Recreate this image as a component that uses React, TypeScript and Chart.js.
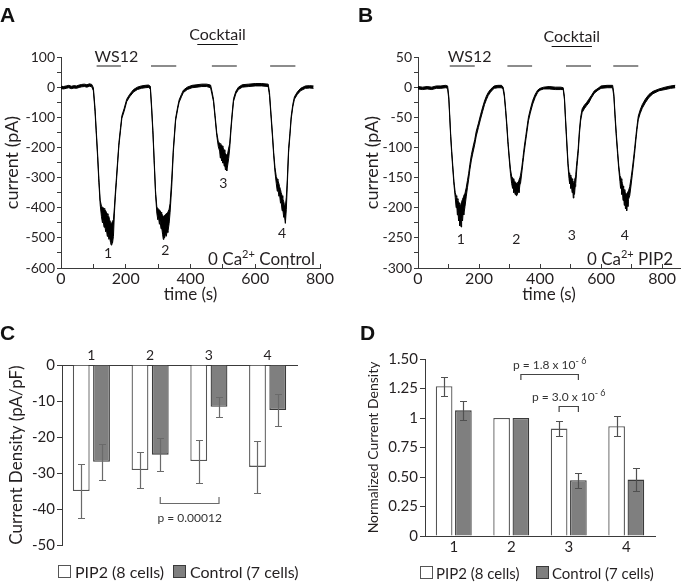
import React, { useEffect, useRef } from 'react';
import { Chart, registerables } from 'chart.js';

Chart.register(...registerables);

const W = 681;
const H = 583;
const FONT = 'Lato, "Open Sans", "DejaVu Sans", sans-serif';
const LETTER_FONT = 'bold 21px "Liberation Sans", Arial, sans-serif';
const TXT = '#231f20';
const AXIS = '#3a3a3a';

// ---------------- Panel A: 0 Ca2+ Control trace (upper / lower edge of the noisy trace) ----------------
const traceATime = [0, 8, 16, 24, 32, 40, 48, 56, 64, 72, 80, 88, 95, 100, 105, 109, 113, 117, 121, 125, 128, 130, 133, 135, 138, 140, 143, 145, 148, 150, 153, 155, 157, 159, 162, 165, 168, 171, 175, 179, 184, 188, 195, 203, 212, 224, 236, 248, 260, 270, 276, 280, 284, 288, 292, 296, 299, 301, 304, 306, 309, 311, 314, 316, 318, 320, 323, 325, 328, 330, 334, 337, 342, 347, 354, 361, 365, 372, 378, 390, 405, 420, 435, 450, 462, 466, 471, 476, 481, 486, 490, 492, 494, 496, 498, 500, 502, 504, 506, 508, 510, 512, 514, 518, 521, 525, 529, 533, 540, 548, 560, 580, 600, 620, 640, 644, 649, 653, 657, 661, 665, 668, 670, 673, 675, 678, 680, 683, 685, 688, 690, 693, 696, 699, 703, 707, 711, 716, 721, 730, 740, 755, 768, 780];
const traceAUpper = [3, 2, 4, 6, 3, 5, 4, 7, 9, 10, 8, 11, 9, -2, -68, -144, -219, -303, -375, -395, -398, -400, -402, -405, -410, -415, -420, -425, -430, -440, -448, -455, -450, -445, -440, -398, -348, -303, -243, -183, -133, -95, -71, -40, -24, -8, 0, 4, 6, 7, 3, -64, -144, -244, -344, -398, -402, -405, -407, -410, -415, -420, -425, -430, -428, -425, -422, -420, -417, -415, -405, -385, -305, -204, -103, -62, -42, -24, -10, 0, 6, 8, 10, 10, 7, -12, -40, -94, -150, -182, -185, -188, -190, -192, -195, -198, -205, -208, -215, -220, -225, -225, -225, -202, -188, -132, -82, -38, -14, 0, 8, 10, 12, 12, 10, -17, -92, -152, -217, -267, -297, -305, -310, -320, -330, -340, -350, -360, -370, -380, -390, -395, -365, -305, -203, -153, -97, -57, -32, -16, -4, 4, 5, 4];
const traceALower = [-5, -6, -4, -2, -5, -3, -4, -1, 1, 2, 0, 3, 1, -12, -80, -156, -231, -317, -390, -430, -450, -440, -465, -455, -480, -470, -495, -485, -505, -498, -515, -524, -510, -518, -495, -418, -362, -317, -253, -193, -143, -103, -80, -48, -32, -16, -8, -4, -2, -1, -6, -76, -156, -256, -356, -418, -440, -430, -455, -445, -470, -465, -490, -505, -492, -500, -485, -495, -478, -482, -452, -415, -330, -216, -112, -70, -50, -32, -18, -8, -2, 0, 2, 2, -2, -22, -48, -103, -160, -198, -212, -235, -222, -245, -235, -252, -245, -262, -258, -275, -270, -278, -265, -236, -204, -143, -92, -47, -22, -8, 0, 2, 4, 4, 2, -28, -103, -163, -228, -282, -320, -345, -335, -362, -355, -385, -380, -410, -405, -432, -425, -452, -405, -325, -217, -163, -106, -66, -40, -24, -12, -4, -3, -4];
const stimA = [[110, 185], [278, 356], [466, 543], [646, 724]];
const cocktailA = [421, 546];
const troughNumbersA = ['1', '2', '3', '4'];
const troughTimesA = [145, 322, 501, 683];
const troughLevelsA = [-551, -541, -318, -484];

// ---------------- Panel B: 0 Ca2+ PIP2 trace ----------------
const traceBTime = [0, 15, 30, 45, 60, 75, 90, 97, 101, 104, 107, 110, 114, 118, 122, 125, 127, 129, 131, 133, 135, 137, 139, 141, 143, 146, 148, 150, 154, 158, 162, 166, 170, 175, 180, 186, 191, 198, 205, 212, 218, 224, 230, 237, 243, 250, 262, 274, 279, 283, 287, 291, 295, 299, 303, 307, 310, 312, 314, 316, 318, 320, 322, 324, 326, 328, 331, 334, 336, 340, 344, 348, 353, 358, 362, 368, 376, 384, 392, 400, 412, 430, 450, 468, 476, 480, 483, 486, 489, 492, 495, 497, 499, 501, 503, 505, 507, 509, 511, 513, 515, 517, 521, 525, 529, 533, 538, 545, 552, 560, 568, 578, 590, 600, 620, 638, 642, 646, 650, 654, 658, 662, 664, 666, 668, 670, 672, 674, 676, 678, 680, 682, 684, 686, 688, 690, 694, 698, 702, 706, 710, 714, 718, 722, 728, 735, 745, 757, 770, 790, 810, 828, 843];
const traceBUpper = [1, 0, 1, 0, 2, 2, 3, 2, -16, -46, -77, -101, -130, -157, -175, -180, -183, -185, -188, -190, -192, -195, -198, -194, -190, -186, -183, -180, -176, -167, -155, -143, -128, -112, -100, -87, -73, -60, -46, -33, -23, -15, -9, -4, -1, 2, 3, 3, 0, -11, -34, -60, -90, -114, -136, -148, -150, -152, -154, -156, -157, -158, -160, -160, -159, -157, -154, -150, -146, -134, -117, -100, -82, -64, -50, -37, -22, -12, -5, -2, 0, 1, 0, 0, -1, -16, -46, -73, -101, -127, -142, -144, -146, -148, -150, -152, -155, -157, -158, -155, -150, -145, -122, -102, -72, -50, -36, -30, -26, -20, -14, -6, -2, 2, 3, 3, -11, -46, -77, -104, -130, -147, -149, -152, -155, -160, -164, -168, -170, -172, -175, -178, -177, -175, -173, -172, -165, -152, -137, -120, -102, -82, -64, -48, -38, -29, -20, -12, -7, -3, 0, 2, 3];
const traceBLower = [-3, -4, -3, -4, -2, -2, -1, -2, -21, -51, -82, -107, -136, -163, -183, -200, -195, -212, -205, -222, -212, -230, -220, -232, -218, -222, -208, -212, -198, -182, -167, -153, -137, -121, -109, -95, -81, -67, -53, -40, -29, -21, -14, -9, -5, -2, -1, -1, -4, -16, -39, -65, -95, -120, -143, -160, -168, -162, -175, -168, -178, -170, -180, -172, -178, -170, -175, -162, -160, -143, -125, -108, -89, -71, -56, -43, -28, -17, -9, -5, -3, -3, -4, -4, -4, -21, -51, -79, -107, -133, -152, -160, -156, -168, -162, -175, -166, -184, -172, -178, -165, -160, -132, -110, -78, -56, -42, -36, -31, -26, -18, -10, -5, -2, -1, -1, -16, -52, -83, -110, -136, -157, -168, -162, -178, -172, -188, -180, -196, -186, -202, -195, -205, -190, -198, -186, -180, -164, -147, -129, -110, -89, -70, -54, -44, -35, -26, -17, -11, -6, -4, -2, -1];
const stimB = [[104, 186], [293, 374], [485, 567], [640, 722]];
const cocktailB = [438, 570];
const troughNumbersB = ['1', '2', '3', '4'];
const troughTimesB = [140, 322, 504, 678];
const troughLevelsB = [-252, -252, -246, -246];

// ---------------- Panels C and D: bar data ----------------
const categories = ['1', '2', '3', '4'];
const seriesNames = ['PIP2 (8 cells)', 'Control (7 cells)'];
const pip2Density = [-35.0, -29.2, -26.7, -28.3];
const pip2DensitySem = [7.5, 5.1, 6.0, 7.3];
const controlDensity = [-26.9, -24.9, -11.6, -12.5];
const controlDensitySem = [5.0, 4.5, 2.8, 4.4];
const pip2Norm = [1.27, 1.0, 0.91, 0.93];
const pip2NormSem = [0.08, 0, 0.063, 0.085];
const controlNorm = [1.065, 1.0, 0.472, 0.478];
const controlNormSem = [0.078, 0, 0.061, 0.097];
const normTickLabels = ['0', '0.25', '0.50', '0.75', '1', '1.25', '1.50'];

const WHITE_FILL = '#ffffff';
const WHITE_EDGE = '#555555';
const GRAY_FILL = '#7f7f7f';
const GRAY_EDGE = '#3a3a3a';

type Area = { left: number; top: number; right: number; bottom: number };

function padFor(area: Area, yW: number, xH: number, xTop: boolean) {
  return {
    left: area.left - yW,
    right: W - area.right,
    top: xTop ? area.top - xH : area.top,
    bottom: xTop ? H - area.bottom : H - area.bottom - xH,
  };
}

function drawLetter(ctx: CanvasRenderingContext2D, letter: string, x: number, y: number) {
  ctx.save();
  ctx.font = LETTER_FONT;
  ctx.fillStyle = '#111';
  ctx.textAlign = 'left';
  ctx.textBaseline = 'alphabetic';
  ctx.fillText(letter, x, y);
  ctx.restore();
}

// parts: [text, isSuperscript]
function drawRich(ctx: CanvasRenderingContext2D, parts: [string, boolean][], x: number, baseline: number, size: number, supSize: number, align: 'left' | 'right' | 'center') {
  const widths = parts.map(([t, sup]) => {
    ctx.font = `${sup ? supSize : size}px ${FONT}`;
    return ctx.measureText(t).width;
  });
  const total = widths.reduce((a, b) => a + b, 0);
  let cx = align === 'left' ? x : align === 'right' ? x - total : x - total / 2;
  ctx.textAlign = 'left';
  ctx.textBaseline = 'alphabetic';
  parts.forEach(([t, sup], i) => {
    ctx.font = `${sup ? supSize : size}px ${FONT}`;
    ctx.fillText(t, cx, sup ? baseline - size * 0.42 : baseline);
    cx += widths[i];
  });
}

function traceConfig(p: any) {
  const {
    time, upper, lower, yMin, yMax, yStep, yLabelEvery, xMax, area, yW, xH,
    stim, stimLevel, cocktail, cocktailLevel, numbers, numTimes, numLevels, condition, letter, letterPos,
  } = p;
  const annot = {
    id: 'traceAnnot',
    afterDraw(chart: any) {
      const { ctx, chartArea } = chart;
      const x = chart.scales.x;
      const y = chart.scales.y;
      ctx.save();
      // WS12 application bars
      ctx.strokeStyle = '#8c8c8c';
      ctx.lineWidth = 2;
      const sy = Math.round(y.getPixelForValue(stimLevel));
      stim.forEach(([a, b]: number[]) => {
        ctx.beginPath();
        ctx.moveTo(x.getPixelForValue(a), sy);
        ctx.lineTo(x.getPixelForValue(b), sy);
        ctx.stroke();
      });
      ctx.fillStyle = TXT;
      ctx.font = `16px ${FONT}`;
      ctx.textAlign = 'left';
      ctx.textBaseline = 'alphabetic';
      ctx.fillText('WS12', x.getPixelForValue(stim[0][0]) - 2, sy - 4);
      // cocktail bar
      const cy = Math.round(y.getPixelForValue(cocktailLevel)) + 0.5;
      ctx.strokeStyle = '#111';
      ctx.lineWidth = 1;
      ctx.beginPath();
      ctx.moveTo(x.getPixelForValue(cocktail[0]), cy);
      ctx.lineTo(x.getPixelForValue(cocktail[1]), cy);
      ctx.stroke();
      ctx.textAlign = 'center';
      ctx.fillText('Cocktail', (x.getPixelForValue(cocktail[0]) + x.getPixelForValue(cocktail[1])) / 2, cy - 5);
      // trough numbers
      ctx.font = `14px ${FONT}`;
      ctx.textBaseline = 'middle';
      numbers.forEach((n: string, i: number) => {
        ctx.fillText(n, x.getPixelForValue(numTimes[i]), y.getPixelForValue(numLevels[i]));
      });
      // condition label
      ctx.fillStyle = TXT;
      drawRich(ctx, [['0 Ca', false], ['2+', true], [' ' + condition, false]], chartArea.right - (p.condRight ?? 5), chartArea.bottom - 3, 17, 11, 'right');
      ctx.restore();
      drawLetter(ctx, letter, letterPos[0], letterPos[1]);
    },
  };
  return {
    type: 'line',
    data: {
      datasets: [
        {
          label: 'upper',
          data: time.map((t: number, i: number) => ({ x: t, y: upper[i] })),
          borderColor: '#000',
          borderWidth: 1,
          pointRadius: 0,
          tension: 0,
          fill: false,
        },
        {
          label: 'lower',
          data: time.map((t: number, i: number) => ({ x: t, y: lower[i] })),
          borderColor: '#000',
          borderWidth: 1,
          pointRadius: 0,
          tension: 0,
          fill: '-1',
          backgroundColor: '#000',
        },
      ],
    },
    options: {
      responsive: false,
      animation: false,
      devicePixelRatio: 1,
      events: [],
      layout: { padding: padFor(area, yW, xH, false) },
      plugins: { legend: { display: false }, tooltip: { enabled: false } },
      scales: {
        x: {
          type: 'linear',
          min: 0,
          max: xMax,
          afterFit: (s: any) => { s.height = xH; },
          grid: { drawOnChartArea: false, tickLength: -4, tickColor: AXIS },
          border: { color: AXIS, width: 1 },
          ticks: {
            stepSize: 100,
            includeBounds: false,
            autoSkip: false,
            maxRotation: 0,
            padding: 5,
            color: TXT,
            font: { family: FONT, size: 16 },
            callback: (v: number) => (v % 200 === 0 ? String(v) : ''),
          },
          title: { display: true, text: 'time (s)', color: TXT, font: { family: FONT, size: 17 }, padding: { top: 0, bottom: 3 } },
        },
        y: {
          min: yMin,
          max: yMax,
          afterFit: (s: any) => { s.width = yW; },
          grid: { drawOnChartArea: false, tickLength: 4, tickColor: AXIS },
          border: { color: AXIS, width: 1 },
          ticks: {
            stepSize: yStep,
            autoSkip: false,
            padding: 2,
            color: TXT,
            font: { family: FONT, size: 14 },
            callback: (v: number) => (Math.abs(v % yLabelEvery) < 1e-6 ? String(v) : ''),
          },
          title: { display: true, text: 'current (pA)', color: TXT, font: { family: FONT, size: 18 }, padding: { top: 1, bottom: 0 } },
        },
      },
    },
    plugins: [annot],
  };
}

function barConfig(p: any) {
  const {
    pip, pipSem, ctl, ctlSem, yMin, yMax, yStep, yTickLabel, yTickSize, yTitle, yTitleSize, yTitlePad,
    area, yW, xH, xTop, xLabelPad, catPct, barPct, errColor, brackets, legendBoxes, legendTextGap, legendTop, legendSize, letter, letterPos,
  } = p;
  const extras = {
    id: 'barExtras',
    afterDatasetsDraw(chart: any) {
      const ctx = chart.ctx;
      const y = chart.scales.y;
      const sems = [pipSem, ctlSem];
      ctx.save();
      ctx.strokeStyle = errColor;
      ctx.lineWidth = 1.2;
      sems.forEach((sem: number[], di: number) => {
        const meta = chart.getDatasetMeta(di);
        const vals = chart.data.datasets[di].data;
        meta.data.forEach((bar: any, i: number) => {
          const s = sem[i];
          if (!s) return;
          const y1 = Math.round(y.getPixelForValue(vals[i] + s)) + 0.5;
          const y2 = Math.round(y.getPixelForValue(vals[i] - s)) + 0.5;
          const bx = Math.round(bar.x) + 0.5;
          ctx.beginPath();
          ctx.moveTo(bx, y1);
          ctx.lineTo(bx, y2);
          ctx.moveTo(bx - 3.5, y1);
          ctx.lineTo(bx + 3.5, y1);
          ctx.moveTo(bx - 3.5, y2);
          ctx.lineTo(bx + 3.5, y2);
          ctx.stroke();
        });
      });
      // significance brackets
      brackets.forEach((b: any) => {
        const xa = chart.getDatasetMeta(b.from[0]).data[b.from[1]].x;
        const xb = chart.getDatasetMeta(b.to[0]).data[b.to[1]].x;
        const ly = Math.round(y.getPixelForValue(b.level)) + 0.5;
        const ty = y.getPixelForValue(b.tip);
        ctx.strokeStyle = b.color;
        ctx.lineWidth = 1.2;
        ctx.beginPath();
        ctx.moveTo(xa, ty);
        ctx.lineTo(xa, ly);
        ctx.lineTo(xb, ly);
        ctx.lineTo(xb, ty);
        ctx.stroke();
        ctx.fillStyle = '#333';
        const parts: [string, boolean][] = [[b.text, false]];
        if (b.sup) parts.push([b.sup, true]);
        drawRich(ctx, parts, (xa + xb) / 2, y.getPixelForValue(b.textAt) + 4, 12, 9, 'center');
      });
      // legend
      const fills = [WHITE_FILL, GRAY_FILL];
      const edges = [WHITE_EDGE, GRAY_EDGE];
      chart.data.datasets.forEach((ds: any, i: number) => {
        const bx = legendBoxes[i];
        ctx.fillStyle = fills[i];
        ctx.fillRect(bx, legendTop, 13, 13);
        ctx.strokeStyle = edges[i];
        ctx.lineWidth = 1;
        ctx.strokeRect(bx + 0.5, legendTop + 0.5, 12, 12);
        ctx.fillStyle = TXT;
        ctx.font = `${legendSize}px ${FONT}`;
        ctx.textAlign = 'left';
        ctx.textBaseline = 'alphabetic';
        ctx.fillText(ds.label, bx + 13 + legendTextGap, legendTop + 12.5);
      });
      ctx.restore();
      drawLetter(ctx, letter, letterPos[0], letterPos[1]);
    },
  };
  return {
    type: 'bar',
    data: {
      labels: categories,
      datasets: [
        { label: seriesNames[0], data: pip, backgroundColor: WHITE_FILL, borderColor: WHITE_EDGE, borderWidth: 1.3, categoryPercentage: catPct, barPercentage: barPct },
        { label: seriesNames[1], data: ctl, backgroundColor: GRAY_FILL, borderColor: GRAY_EDGE, borderWidth: 1.3, categoryPercentage: catPct, barPercentage: barPct },
      ],
    },
    options: {
      responsive: false,
      animation: false,
      devicePixelRatio: 1,
      events: [],
      layout: { padding: padFor(area, yW, xH, xTop) },
      plugins: { legend: { display: false }, tooltip: { enabled: false } },
      scales: {
        x: {
          position: xTop ? 'top' : 'bottom',
          afterFit: (s: any) => { s.height = xH; },
          grid: { display: false, drawTicks: false },
          border: { display: true, color: AXIS, width: 1 },
          ticks: { padding: xLabelPad, color: TXT, font: { family: FONT, size: xTop ? 14 : 15 } },
        },
        y: {
          min: yMin,
          max: yMax,
          afterFit: (s: any) => { s.width = yW; },
          grid: { drawOnChartArea: false, tickLength: 5, tickColor: AXIS },
          border: { color: AXIS, width: 1 },
          ticks: {
            stepSize: yStep,
            autoSkip: false,
            padding: 2,
            color: TXT,
            font: { family: FONT, size: yTickSize },
            callback: yTickLabel,
          },
          title: { display: true, text: yTitle, color: TXT, font: { family: FONT, size: yTitleSize }, padding: { top: yTitlePad, bottom: 0 } },
        },
      },
    },
    plugins: [extras],
  };
}

const configs = [
  () => traceConfig({
    time: traceATime, upper: traceAUpper, lower: traceALower,
    yMin: -600, yMax: 100, yStep: 50, yLabelEvery: 100, xMax: 800,
    area: { left: 61, top: 57, right: 320, bottom: 268 }, yW: 61, xH: 40,
    stim: stimA, stimLevel: 70.5, cocktail: cocktailA, cocktailLevel: 141.5,
    numbers: troughNumbersA, numTimes: troughTimesA, numLevels: troughLevelsA,
    condition: 'Control', condRight: 5, letter: 'A', letterPos: [0, 22],
  }),
  () => traceConfig({
    time: traceBTime, upper: traceBUpper, lower: traceBLower,
    yMin: -300, yMax: 50, yStep: 25, yLabelEvery: 50, xMax: 859,
    area: { left: 418, top: 57, right: 681, bottom: 268 }, yW: 58, xH: 40,
    stim: stimB, stimLevel: 35, cocktail: cocktailB, cocktailLevel: 67.5,
    numbers: troughNumbersB, numTimes: troughTimesB, numLevels: troughLevelsB,
    condition: 'PIP2', condRight: 7, letter: 'B', letterPos: [358, 22],
  }),
  () => barConfig({
    pip: pip2Density, pipSem: pip2DensitySem, ctl: controlDensity, ctlSem: controlDensitySem,
    yMin: -50, yMax: 0, yStep: 10, yTickLabel: (v: number) => String(v), yTickSize: 15,
    yTitle: 'Current Density (pA/pF)', yTitleSize: 17, yTitlePad: 6,
    area: { left: 62, top: 365, right: 297, bottom: 545 }, yW: 62, xH: 25, xTop: true, xLabelPad: 1.5,
    catPct: 0.69, barPct: 0.83, errColor: '#6a6a6a',
    brackets: [{ from: [1, 1], to: [1, 2], level: -38.3, tip: -36.7, text: 'p = 0.00012', textAt: -42.5, color: '#6a6a6a' }],
    legendBoxes: [58, 173], legendTextGap: 4, legendTop: 565, legendSize: 16, letter: 'C', letterPos: [0, 340],
  }),
  () => barConfig({
    pip: pip2Norm, pipSem: pip2NormSem, ctl: controlNorm, ctlSem: controlNormSem,
    yMin: 0, yMax: 1.5, yStep: 0.25, yTickLabel: (v: number) => normTickLabels[Math.round(v / 0.25)], yTickSize: 15,
    yTitle: 'Normalized Current Density', yTitleSize: 14, yTitlePad: 0.6,
    area: { left: 425, top: 359, right: 655, bottom: 536 }, yW: 61, xH: 25, xTop: false, xLabelPad: 2,
    catPct: 0.67, barPct: 0.865, errColor: '#505050',
    brackets: [
      { from: [1, 1], to: [1, 2], level: 1.373, tip: 1.322, text: 'p = 1.8 x 10', sup: '- 6', textAt: 1.45, color: '#444' },
      { from: [0, 2], to: [1, 2], level: 1.10, tip: 1.05, text: 'p = 3.0 x 10', sup: '- 6', textAt: 1.178, color: '#444' },
    ],
    legendBoxes: [420, 536], legendTextGap: 3, legendTop: 566, legendSize: 15, letter: 'D', letterPos: [360, 340],
  }),
];

function Panel({ make }: { make: () => any }) {
  const ref = useRef<HTMLCanvasElement>(null);
  useEffect(() => {
    const chart = new Chart(ref.current as HTMLCanvasElement, make());
    return () => chart.destroy();
  }, [make]);
  return (
    <canvas
      ref={ref}
      width={W}
      height={H}
      style={{ position: 'absolute', left: 0, top: 0, width: W, height: H }}
    />
  );
}

export default function App() {
  return (
    <div style={{ position: 'fixed', left: 0, top: 0, width: W, height: H, background: '#fff', overflow: 'hidden' }}>
      {configs.map((make, i) => (
        <Panel key={i} make={make} />
      ))}
    </div>
  );
}
